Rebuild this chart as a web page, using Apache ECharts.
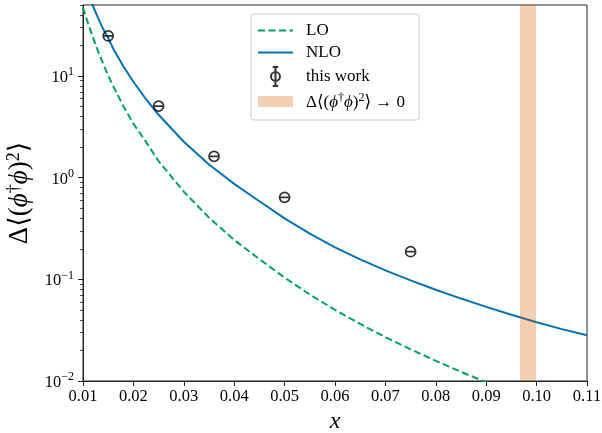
<!DOCTYPE html>
<html>
<head>
<meta charset="utf-8">
<script src="https://cdn.jsdelivr.net/npm/echarts@6/dist/echarts.min.js"></script>
<style>
html,body{margin:0;padding:0;background:#fff;}
#chart{width:602px;height:433px;}
</style>
</head>
<body>
<div id="chart"></div>
<script>
// ---- data ----
const curveX = [0.010, 0.011, 0.012, 0.013, 0.014, 0.015, 0.016, 0.018, 0.020, 0.0225, 0.025, 0.030, 0.035, 0.040, 0.045, 0.050, 0.055, 0.060, 0.065, 0.070, 0.075, 0.080, 0.085, 0.090, 0.095, 0.100, 0.105, 0.110];
const loValues = [47.3, 33.0, 23.7, 17.5, 13.2, 10.1, 7.94, 5.07, 3.40, 2.25, 1.455, 0.728, 0.405, 0.244, 0.158, 0.104, 0.071, 0.0501, 0.0364, 0.0270, 0.0205, 0.0158, 0.0123, 0.00972, 0.0078, 0.0063, 0.0051, 0.0042];
const nloValues = [90, 65.2, 48.6, 37.2, 29.0, 23.7, 18.6, 12.5, 8.79, 5.92, 4.16, 2.26, 1.35, 0.869, 0.586, 0.398, 0.282, 0.2065, 0.157, 0.1227, 0.0977, 0.079, 0.0647, 0.0536, 0.0448, 0.0378, 0.0324, 0.0282];
const workX = [0.015, 0.025, 0.036, 0.050, 0.075];
const workY = [24.8, 5.06, 1.62, 0.64, 0.187];
const bandRange = [0.0967, 0.0999];
const xTicks = [0.01, 0.02, 0.03, 0.04, 0.05, 0.06, 0.07, 0.08, 0.09, 0.10, 0.11];
const yMajorTicks = [0.01, 0.1, 1, 10];
const yMinorTicks = [0.02, 0.03, 0.04, 0.05, 0.06, 0.07, 0.08, 0.09, 0.2, 0.3, 0.4, 0.5, 0.6, 0.7, 0.8, 0.9, 2, 3, 4, 5, 6, 7, 8, 9, 20, 30, 40, 50];
const yExponents = ['−2', '−1', '0', '1'];
const seriesNames = ['LO', 'NLO', 'this work', 'Δ⟨(ϕ†ϕ)²⟩ → 0'];

const FONT = '"Liberation Serif", "DejaVu Serif", serif';
const chart = echarts.init(document.getElementById('chart'), null, {renderer: 'canvas'});

const markerPath = 'path://M0,10 A10,10 0 1,1 20,10 A10,10 0 1,1 0,10 Z M0,10 L20,10';
const errIcon = 'path://M10,0 L10,34 M5,0 L15,0 M5,34 L15,34 M2,17 A8,8 0 1,1 18,17 A8,8 0 1,1 2,17 Z';
const rectIcon = 'path://M0,0 L35,0 L35,11 L0,11 Z';
const hidden = {color: 'rgba(0,0,0,0)', borderColor: 'rgba(0,0,0,0)', borderWidth: 0, opacity: 0};

const option = {
  animation: false,
  backgroundColor: '#fff',
  grid: {left: 83, right: 15, top: 5, bottom: 52, outerBoundsMode: 'none', containLabel: false,
    show: true, borderColor: '#222', borderWidth: 1, backgroundColor: 'transparent'},
  legend: {
    orient: 'vertical',
    left: 251, top: 14,
    padding: [8, 14, 9, 6],
    itemWidth: 35, itemHeight: 19, itemGap: 5,
    backgroundColor: 'rgba(255,255,255,0.8)',
    borderColor: '#cccccc', borderWidth: 1, borderRadius: 3,
    symbolKeepAspect: true,
    data: [
      {name: seriesNames[0], itemStyle: hidden},
      {name: seriesNames[1], itemStyle: hidden},
      {name: seriesNames[2], icon: errIcon},
      {name: seriesNames[3], icon: rectIcon}
    ],
    formatter: function (name) {
      if (name === seriesNames[3]) {
        return '{t|Δ⟨(}{i|ϕ}{s|†}{i|ϕ}{t|)}{s|2}{t|⟩ → 0}';
      }
      return '{t|' + name + '}';
    },
    textStyle: {
      fontFamily: FONT, fontSize: 17, color: '#000', padding: [0, 0, 0, 8],
      rich: {
        t: {fontFamily: FONT, fontSize: 17, color: '#000', verticalAlign: 'bottom'},
        i: {fontFamily: FONT, fontSize: 17, fontStyle: 'italic', color: '#000', verticalAlign: 'bottom'},
        s: {fontFamily: FONT, fontSize: 12, color: '#000', verticalAlign: 'bottom', padding: [0, 0, 7, 0]}
      }
    }
  },
  xAxis: {
    type: 'value', min: 0.01, max: 0.11, interval: 0.01,
    name: 'x', nameLocation: 'middle', nameGap: 27,
    nameTextStyle: {fontFamily: FONT, fontSize: 24, fontStyle: 'italic', color: '#000'},
    axisLine: {show: true, lineStyle: {color: '#222', width: 1}},
    axisTick: {show: true, inside: false, length: 5, lineStyle: {color: '#222', width: 1}},
    axisLabel: {margin: 7, fontFamily: FONT, fontSize: 16.5, color: '#000',
      formatter: function (v) { return v.toFixed(2); }},
    splitLine: {show: false}
  },
  yAxis: [
    {
      type: 'log', logBase: 10, min: 0.01, max: 50, position: 'left',
      name: '{t|Δ⟨(}{i|ϕ}{s|†}{i|ϕ}{t|)}{s|2}{t|⟩}',
      nameLocation: 'middle', nameGap: 42, nameRotate: 90,
      nameTextStyle: {
        fontFamily: FONT, fontSize: 27, color: '#000',
        rich: {
          t: {fontFamily: FONT, fontSize: 27, color: '#000', verticalAlign: 'bottom'},
          i: {fontFamily: FONT, fontSize: 27, fontStyle: 'italic', color: '#000', verticalAlign: 'bottom'},
          s: {fontFamily: FONT, fontSize: 18, color: '#000', verticalAlign: 'bottom', padding: [0, 0, 11, 0]}
        }
      },
      axisLine: {show: true, lineStyle: {color: '#222', width: 1}},
      axisTick: {show: true, inside: false, length: 5, customValues: yMajorTicks, lineStyle: {color: '#222', width: 1}},
      axisLabel: {
        margin: 9, customValues: yMajorTicks,
        formatter: function (v) {
          let idx = 0, best = Infinity;
          yMajorTicks.forEach((t, i) => {
            const d = Math.abs(Math.log10(t) - Math.log10(v));
            if (d < best) { best = d; idx = i; }
          });
          return '{b|10}{e|' + yExponents[idx] + '}';
        },
        rich: {
          b: {fontFamily: FONT, fontSize: 16.5, color: '#000', verticalAlign: 'bottom'},
          e: {fontFamily: FONT, fontSize: 12, color: '#000', verticalAlign: 'bottom', padding: [0, 0, 8, 0]}
        }
      },
      splitLine: {show: false}
    },
    {
      type: 'log', logBase: 10, min: 0.01, max: 50, position: 'left', alignTicks: false,
      axisLine: {show: false},
      axisTick: {show: true, inside: false, length: 3, customValues: yMinorTicks, lineStyle: {color: '#222', width: 0.8}},
      axisLabel: {show: false},
      splitLine: {show: false}
    }
  ],
  series: [
    {
      name: seriesNames[0], type: 'line', yAxisIndex: 0,
      data: curveX.map((x, i) => [x, loValues[i]]),
      symbol: 'none', smooth: false, clip: true, z: 2,
      itemStyle: {color: '#029e73'},
      lineStyle: {color: '#029e73', width: 2, type: [7, 3.5]}
    },
    {
      name: seriesNames[1], type: 'line', yAxisIndex: 0,
      data: curveX.map((x, i) => [x, nloValues[i]]),
      symbol: 'none', smooth: false, clip: true, z: 2,
      itemStyle: {color: '#0173b2'},
      lineStyle: {color: '#0173b2', width: 2}
    },
    {
      name: seriesNames[2], type: 'scatter', yAxisIndex: 0,
      data: workX.map((x, i) => [x, workY[i]]),
      symbol: markerPath, symbolSize: 10, z: 4,
      itemStyle: {color: 'rgba(0,0,0,0)', borderColor: '#000', borderWidth: 1.7}
    },
    {
      name: seriesNames[3], type: 'line', yAxisIndex: 0,
      data: [],
      symbol: 'none', z: 3,
      itemStyle: {color: 'rgba(213,94,0,0.3)', borderWidth: 0},
      lineStyle: {color: 'rgba(213,94,0,0.3)', width: 0},
      markArea: {
        silent: true, z: 3,
        itemStyle: {color: 'rgba(213,94,0,0.3)'},
        data: [[{xAxis: bandRange[0]}, {xAxis: bandRange[1]}]]
      }
    }
  ]
};
chart.setOption(option);
</script>
</body>
</html>
